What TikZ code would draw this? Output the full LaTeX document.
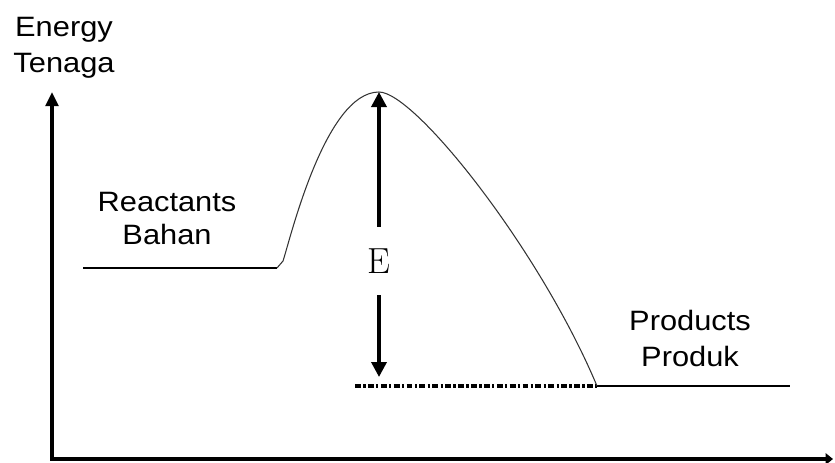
\documentclass[tikz,border=0pt]{standalone}
\usepackage{fontspec}
\newfontfamily\labelfont[FakeStretch=1.1]{Liberation Sans}
\usepackage{tikz}
\usetikzlibrary{arrows.meta}

\begin{document}
\begin{tikzpicture}[
    x=0.03cm, y=-0.03cm,
    word/.style={align=center, inner sep=0pt, font=\labelfont\fontsize{23.9pt}{30.7pt}\selectfont},
    axis/.style={{Triangle[length=0.42cm,width=0.38cm]}-{Triangle[length=0.22cm,width=0.34cm]}, line width=2.6pt, line join=miter},
    level/.style={line width=1.2pt},
    curve/.style={line width=0.9pt, black!80},
    gap/.style={-{Triangle[length=0.45cm,width=0.45cm]}, line width=3pt},
    base/.style={line width=3pt, dash pattern=on 5pt off 2pt on 2pt off 2pt}
]
    \useasboundingbox (0,0) rectangle (835,462);

    % --- AXES ---
    \coordinate (Origin) at (52,459);
    \coordinate (YTip) at (52,92);
    \coordinate (XTip) at (833,459);
    \draw[axis] (YTip) -- (Origin) -- (XTip);

    % --- LABELS ---
    \node[word] (Energy) at (64,48) {Energy\\Tenaga};
    \node[word, font=\labelfont\fontsize{23.9pt}{28.2pt}\selectfont] (Reactants) at (167,218.5) {Reactants\\Bahan};
    \node[word] (Products) at (690,338) {Products\\Produk};
    \node[inner sep=0pt, minimum height=2.04cm, font=\fontsize{31pt}{36pt}\selectfont] (E) at (379,261) {E};

    % --- ENERGY LEVELS ---
    \coordinate (R1) at (83,268);
    \coordinate (R2) at (277,268);
    \coordinate (TS) at (379,92);
    \coordinate (P1) at (597,386);
    \coordinate (P2) at (790,386);
    \coordinate (D1) at (355,386);
    \coordinate (ETip) at (379,377);

    \draw[level] (R1) -- (R2);
    \draw[level] (P1) -- (P2);
    \draw[base] (D1) -- (P1);

    % reaction path
    \draw[curve] (R2) -- ++(6,-7) .. controls (290,240) and (325,92) .. (TS)
        .. controls (415,92) and (540,250) .. (P1);

    % activation energy
    \draw[gap] (E.north) -- (TS);
    \draw[gap] (E.south) -- (ETip);

\end{tikzpicture}
\end{document}
